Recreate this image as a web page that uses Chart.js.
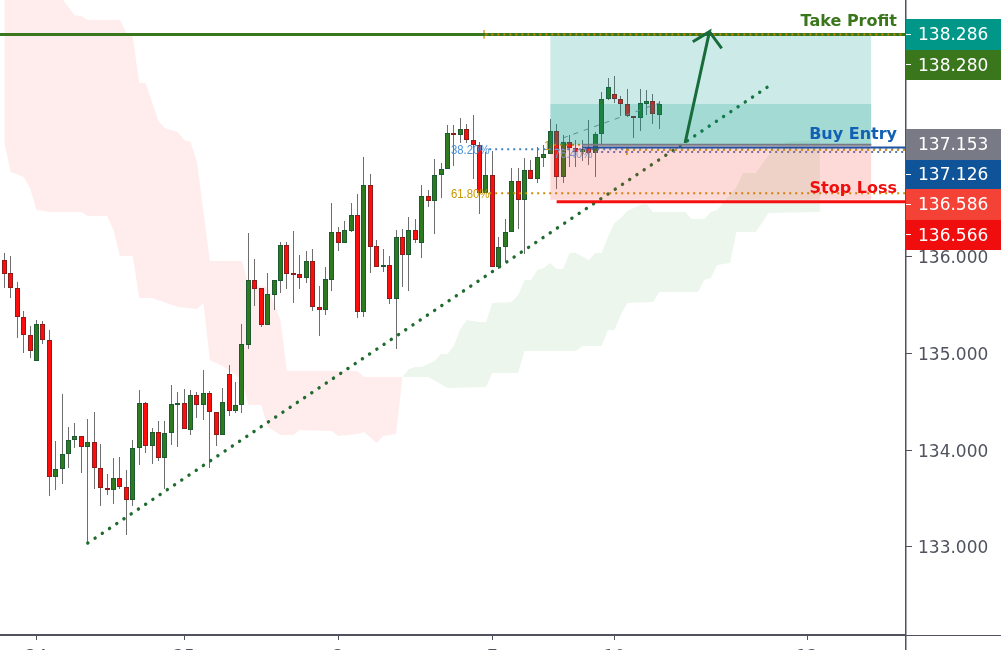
<!DOCTYPE html>
<html>
<head>
<meta charset="utf-8">
<style>
  html, body { margin: 0; padding: 0; background: #fff; overflow: hidden; }
  canvas { display: block; }
</style>
<script src="https://cdn.jsdelivr.net/npm/chart.js@4"></script>
</head>
<body>
<canvas id="priceChart" width="1001" height="650"></canvas>
<script>
// Candles, one entry per bar
const candleOpen = [
  135.960, 135.826, 135.671, 135.371, 135.185, 134.917, 135.299, 135.134, 133.719, 133.802,
  133.957, 134.101, 134.142, 134.029, 134.081, 133.812, 133.605, 133.585, 133.709, 133.616,
  133.488, 134.019, 134.483, 134.046, 134.184, 133.915, 134.173, 134.469, 134.483, 134.211,
  134.566, 134.463, 134.587, 134.390, 134.153, 134.783, 134.401, 134.463, 135.089, 135.754,
  135.671, 135.296, 135.606, 135.750, 136.115, 135.829, 135.816, 135.781, 135.950, 135.475,
  135.451, 135.761, 136.249, 136.143, 136.267, 136.425, 135.430, 136.735, 136.105, 135.895,
  135.909, 135.564, 136.198, 136.019, 136.270, 136.143, 136.621, 136.576, 136.838, 136.900,
  137.272, 137.251, 137.313, 137.200, 137.148, 136.652, 136.838, 135.895, 136.102, 136.256,
  136.776, 136.587, 136.890, 136.804, 137.021, 137.055, 137.293, 136.824, 137.179, 137.117,
  137.076, 137.117, 137.065, 137.262, 137.623, 137.675, 137.623, 137.571, 137.451, 137.434,
  137.578, 137.602, 137.465
];
const candleHigh = [
  136.032, 136.005, 135.733, 135.437, 135.282, 135.344, 135.334, 135.241, 134.094, 134.580,
  134.239, 134.280, 134.142, 134.321, 134.394, 134.063, 133.753, 133.919, 133.929, 133.795,
  134.105, 134.621, 134.497, 134.229, 134.301, 134.301, 134.673, 134.600, 134.631, 134.621,
  134.597, 134.828, 134.607, 134.390, 134.642, 134.879, 134.704, 135.303, 136.243, 135.974,
  135.671, 135.829, 135.754, 136.150, 136.150, 136.263, 136.015, 136.057, 136.077, 135.695,
  135.891, 136.552, 136.304, 136.366, 136.552, 136.645, 137.027, 136.852, 136.170, 136.077,
  136.005, 136.270, 136.284, 136.408, 136.387, 136.738, 136.687, 137.007, 136.965, 137.358,
  137.358, 137.430, 137.368, 137.461, 137.186, 137.083, 137.086, 136.205, 136.387, 136.911,
  136.917, 137.014, 136.997, 137.127, 137.151, 137.420, 137.365, 137.255, 137.255, 137.203,
  137.203, 137.410, 137.282, 137.695, 137.840, 137.864, 137.657, 137.730, 137.451, 137.730,
  137.719, 137.678, 137.606
];
const candleLow = [
  135.678, 135.574, 135.161, 135.006, 134.955, 134.917, 135.099, 133.530, 133.592, 133.654,
  133.819, 134.025, 133.767, 133.041, 133.602, 133.426, 133.537, 133.447, 133.602, 133.127,
  133.426, 133.850, 133.974, 133.860, 133.891, 133.602, 134.056, 134.036, 134.215, 134.160,
  134.335, 134.311, 133.819, 134.046, 134.153, 134.356, 134.387, 134.387, 135.048, 135.492,
  135.275, 135.296, 135.451, 135.626, 135.664, 135.523, 135.664, 135.730, 135.440, 135.182,
  135.399, 135.647, 136.057, 136.143, 136.253, 135.365, 135.378, 135.829, 135.895, 135.840,
  135.509, 135.048, 135.685, 135.647, 136.143, 135.988, 136.514, 136.236, 136.607, 136.900,
  136.934, 137.175, 137.172, 136.804, 136.439, 136.652, 135.895, 135.874, 135.940, 136.256,
  136.281, 136.022, 136.804, 136.756, 136.921, 137.055, 136.694, 136.762, 136.928, 136.928,
  136.990, 136.945, 136.818, 137.162, 137.616, 137.582, 137.454, 137.437, 137.220, 137.299,
  137.461, 137.368, 137.317
];
const candleClose = [
  135.822, 135.671, 135.371, 135.185, 135.020, 135.299, 135.134, 133.719, 133.802, 133.957,
  134.101, 134.142, 134.029, 134.081, 133.812, 133.605, 133.585, 133.709, 133.616, 133.488,
  134.019, 134.483, 134.046, 134.184, 133.915, 134.173, 134.473, 134.483, 134.215, 134.566,
  134.463, 134.587, 134.390, 134.153, 134.494, 134.401, 134.463, 135.093, 135.754, 135.668,
  135.296, 135.609, 135.754, 136.115, 135.823, 135.812, 135.781, 135.950, 135.475, 135.451,
  135.764, 136.249, 136.143, 136.270, 136.425, 135.430, 136.735, 136.101, 135.895, 135.909,
  135.564, 136.198, 136.019, 136.270, 136.174, 136.621, 136.576, 136.838, 136.900, 137.272,
  137.251, 137.313, 137.199, 137.148, 136.652, 136.838, 135.895, 136.102, 136.256, 136.776,
  136.587, 136.890, 136.804, 137.024, 137.059, 137.293, 136.824, 137.179, 137.117, 137.083,
  137.107, 137.065, 137.265, 137.623, 137.747, 137.623, 137.571, 137.451, 137.434, 137.582,
  137.602, 137.468, 137.571
];

// Red kumo, upper and lower edge
const redCloudTopX = [0, 9.14, 11, 12, 13, 18, 19, 20, 21, 22, 24, 25, 27, 28, 29, 30, 32, 37, 38, 41, 43, 44, 55, 56, 62];
const redCloudTop = [138.649, 138.649, 138.490, 138.484, 138.442, 138.442, 138.308, 138.267, 137.792, 137.792, 137.399, 137.327, 137.286, 137.203, 137.182, 136.976, 135.954, 135.954, 135.706, 135.685, 135.344, 134.818, 134.818, 134.756, 134.756];
const redCloudBottomX = [0, 1, 3, 4, 5, 7, 12, 13, 16, 17, 18, 20, 21, 23, 27, 30, 31, 32, 34, 37, 38, 40, 41, 43, 45, 46, 51, 52, 55, 56, 58, 59, 61, 62];
const redCloudBottom = [137.172, 136.873, 136.821, 136.707, 136.480, 136.460, 136.460, 136.418, 136.418, 136.274, 136.005, 136.005, 135.571, 135.571, 135.478, 135.458, 135.520, 134.931, 134.869, 134.725, 134.466, 134.466, 134.239, 134.157, 134.157, 134.208, 134.198, 134.146, 134.167, 134.188, 134.074, 134.146, 134.167, 134.756];

// Green kumo
const greenCloudTopX = [62, 63, 64, 65, 67, 68, 69, 70, 71, 72, 74, 75, 76, 79, 80, 81, 82, 83, 84, 85, 86, 87, 88, 89, 91, 92, 93, 94, 95, 96, 97, 99, 100, 101, 106, 107, 109, 110, 111, 114, 115, 117, 119, 120, 122, 127];
const greenCloudTop = [134.756, 134.838, 134.859, 134.859, 134.921, 134.993, 134.993, 135.076, 135.251, 135.344, 135.324, 135.324, 135.520, 135.530, 135.602, 135.757, 135.757, 135.861, 135.881, 135.933, 135.871, 135.871, 136.036, 136.036, 135.964, 136.036, 136.036, 136.201, 136.346, 136.398, 136.470, 136.532, 136.542, 136.460, 136.460, 136.387, 136.387, 136.460, 136.480, 136.718, 136.862, 136.862, 137.048, 137.120, 137.182, 137.203];
const greenCloudBottomX = [62, 66, 69, 75, 76, 80, 81, 89, 90, 93, 94, 95, 96, 97, 101, 102, 108, 109, 110, 111, 113, 114, 117, 119, 127];
const greenCloudBottom = [134.756, 134.756, 134.642, 134.652, 134.797, 134.797, 135.024, 135.024, 135.076, 135.076, 135.241, 135.241, 135.396, 135.520, 135.530, 135.633, 135.633, 135.757, 135.778, 135.912, 135.933, 136.253, 136.253, 136.449, 136.460];

// Trade levels
const takeProfit = 138.286;
const takeProfitLine = 138.293;
const buyEntryGray = 137.153;
const buyEntry = 137.126;
const stopLossTop = 136.586;
const stopLoss = 136.566;
const cloudMid = 137.575;
const fib382 = 137.108;
const fib618 = 136.653;
const fib764 = 137.078;

// Drawings in bar index / price
const zoneX = [85, 135];
const trendX = [13, 119.3];
const trendY = [133.041, 137.771];
const arrowX = [106, 109.8, 107.2, 109.8, 111.7];
const arrowY = [137.172, 138.322, 138.218, 138.322, 138.150];
const fibGuideX = [87, 102];
const fibGuideY = [137.224, 137.585];

// Axis ticks
const dateTicks = [5, 28, 52, 76, 95, 125];
const dateLabels = ["24", "25", "3", "7", "10", "12"];
const priceTicks = [133, 134, 135, 136, 137, 138];

const X_MIN = -0.674;
const X_MAX = 140.4;
const TEXT_GRAY = "#50535e";

function toPoints(xs, ys) {
    return xs.map((x, i) => ({ x: x, y: ys[i] }));
}

function lineSet(xs, ys, order, color, width, extra) {
    return Object.assign({
        type: "line",
        data: toPoints(xs, ys),
        order: order,
        borderColor: color,
        borderWidth: width,
        pointRadius: 0,
        tension: 0,
        fill: false,
    }, extra || {});
}

function levelSet(from, to, price, order, color, width, extra) {
    return lineSet([from, to], [price, price], order, color, width, extra);
}

function zoneSet(price, target, color) {
    return lineSet(zoneX, [price, price], 20, "transparent", 0, {
        backgroundColor: color,
        fill: { value: target },
    });
}

const candleIndex = candleOpen.map((v, i) => i);
const isUp = candleIndex.map((i) => candleClose[i] >= candleOpen[i]);

const GOLD = "#c98d00";
const DOT = [2, 4];

const datasets = [
    // Kumo
    lineSet(redCloudTopX, redCloudTop, 100, "transparent", 0, { backgroundColor: "rgba(255,0,0,0.075)", fill: "+1" }),
    lineSet(redCloudBottomX, redCloudBottom, 100, "transparent", 0),
    lineSet(greenCloudTopX, greenCloudTop, 100, "transparent", 0, { backgroundColor: "rgba(0,128,0,0.075)", fill: "+1" }),
    lineSet(greenCloudBottomX, greenCloudBottom, 100, "transparent", 0),

    // Candles
    {
        type: "bar",
        label: "wicks",
        order: 90,
        data: candleIndex.map((i) => ({ x: i, y: [candleLow[i], candleHigh[i]] })),
        backgroundColor: "#6e6e6e",
        borderWidth: 0,
        barThickness: 1,
        grouped: false,
        inflateAmount: 0,
    },
    {
        type: "bar",
        label: "bodies",
        order: 80,
        data: candleIndex.map((i) => ({ x: i, y: [candleOpen[i], candleClose[i]] })),
        backgroundColor: isUp.map((u) => (u ? "#2e7a1f" : "#ff0d0d")),
        borderColor: isUp.map((u) => (u ? "#1d5a32" : "#8a1c1c")),
        borderWidth: 1,
        borderSkipped: false,
        barThickness: 5,
        grouped: false,
        inflateAmount: 0,
    },

    // Trend line and fib levels, under the trade zones
    lineSet(trendX, trendY, 60, "#1f6b2e", 3.4, { borderDash: [0.1, 8.6], borderCapStyle: "round" }),
    lineSet(fibGuideX, fibGuideY, 55, "#8b8b8b", 1, { borderDash: [5, 6] }),
    levelSet(75.5, X_MAX, fib382, 50, "#3d85c6", 2, { borderDash: DOT }),
    levelSet(92, X_MAX, fib764, 50, "#5a78c0", 2, { borderDash: DOT }),
    levelSet(75.5, X_MAX, fib618, 50, GOLD, 2, { borderDash: DOT }),
    levelSet(85.6, 90, 137.153, 50, GOLD, 2, { borderDash: DOT }),
    lineSet([96.94, 96.94], [137.120, 137.048], 50, GOLD, 1.5),
    lineSet([74.7, 74.7], [138.340, 138.250], 50, GOLD, 1.2),

    // Trade zones
    zoneSet(takeProfit, buyEntryGray, "rgba(0,150,136,0.2)"),
    zoneSet(cloudMid, buyEntryGray, "rgba(0,150,136,0.2)"),
    zoneSet(buyEntryGray, stopLossTop, "rgba(244,67,54,0.2)"),

    // Level lines
    levelSet(X_MIN, X_MAX, takeProfitLine, 10, "#3a761c", 3),
    levelSet(74.9, X_MAX, takeProfitLine, 9, GOLD, 2, { borderDash: DOT }),
    levelSet(90, 135, buyEntryGray, 10, "#767a86", 2),
    levelSet(90, X_MAX, buyEntry, 9, "#20529f", 2),
    levelSet(96.94, X_MAX, 137.100, 8, "#d4921c", 2, { borderDash: DOT }),
    levelSet(86, X_MAX, stopLoss, 10, "#f50f0f", 3),
    lineSet(arrowX, arrowY, 5, "#186b3a", 3),
];

// Candles sit on whole pixels, so the wicks stay one pixel wide
const snapPlugin = {
    id: "snapPlugin",
    beforeDatasetDraw(chart, args) {
        const label = chart.data.datasets[args.index].label;
        if (label !== "wicks" && label !== "bodies") return;
        args.meta.data.forEach((bar) => {
            bar.x = Math.round(bar.x - 0.5) + 0.5;
            bar.y = Math.round(bar.y);
            bar.base = Math.round(bar.base);
        });
    },
};

// Fib percentages are set in a narrow face, squeeze the sans to fit
function fibText(ctx, text, x, y, color) {
    ctx.save();
    ctx.translate(x, y);
    ctx.scale(0.84, 1);
    ctx.fillStyle = color;
    ctx.fillText(text, 0, 0);
    ctx.restore();
}

// Labels on the drawings and the price boxes on the axis
const labelPlugin = {
    id: "labelPlugin",
    afterDraw(chart) {
        const ctx = chart.ctx;
        const xs = chart.scales.x;
        const ys = chart.scales.y;
        ctx.save();

        // Full length axis lines
        ctx.fillStyle = TEXT_GRAY;
        ctx.fillRect(905, 0, 1.5, 650);
        ctx.fillRect(0, 634, 906, 2);
        ctx.fillRect(906, 635, 95, 1);

        ctx.textBaseline = "middle";
        ctx.textAlign = "left";
        ctx.font = "13.5px 'Liberation Sans'";
        fibText(ctx, "38.20%", 451, ys.getPixelForValue(fib382) + 1, "#4a90d9");
        fibText(ctx, "61.80%", 451, ys.getPixelForValue(fib618) + 1, "#c99700");
        fibText(ctx, "76.40%", 554, ys.getPixelForValue(fib764) + 2, "#7d97c4");
        fibText(ctx, "1", xs.getPixelForValue(84.5) - 3, ys.getPixelForValue(137.153) + 1, "#c99700");

        ctx.textAlign = "right";
        ctx.font = "bold 16px 'DejaVu Sans'";
        ctx.fillStyle = "#3a761c";
        ctx.fillText("Take Profit", 897, 21.5);
        ctx.fillStyle = "#1260b4";
        ctx.fillText("Buy Entry", 897, 135);
        ctx.fillStyle = "#f00d0d";
        ctx.fillText("Stop Loss", 897, 189);

        const boxes = [
            [takeProfit, "#009688", 19, 31, 34],
            [138.280, "#3a761c", 50, 30, 64],
            [buyEntryGray, "#787b86", 129, 31, null],
            [buyEntry, "#0f5499", 160, 29, 174],
            [stopLossTop, "#f44336", 189, 31, 204],
            [stopLoss, "#f00d0d", 220, 30, 234],
        ];
        ctx.font = "17px 'DejaVu Sans'";
        ctx.textAlign = "left";
        boxes.forEach(([price, color, top, height, tick]) => {
            ctx.fillStyle = color;
            ctx.fillRect(906, top, 95, height);
            ctx.fillStyle = "#ffffff";
            if (tick !== null) ctx.fillRect(906, tick, 5, 1);
            ctx.fillText(price.toFixed(3), 918, top + height / 2 + 1.5);
        });
        ctx.restore();
    },
};

const ctx = document.getElementById("priceChart").getContext("2d");
new Chart(ctx, {
    type: "bar",
    data: { datasets: datasets },
    plugins: [snapPlugin, labelPlugin],
    options: {
        responsive: false,
        animation: false,
        devicePixelRatio: 1,
        layout: { padding: 0 },
        plugins: {
            legend: { display: false },
            title: { display: false },
            tooltip: { enabled: false },
        },
        scales: {
            x: {
                type: "linear",
                position: "bottom",
                bounds: "data",
                min: X_MIN,
                max: X_MAX,
                offset: false,
                grid: { display: true, offset: false, drawOnChartArea: false, drawTicks: true, tickLength: 5, tickColor: TEXT_GRAY },
                border: { display: false },
                afterBuildTicks(scale) {
                    scale.ticks = dateTicks.map((v) => ({ value: v }));
                },
                afterFit(scale) {
                    scale.height = 15;
                    scale.paddingLeft = 0;
                    scale.paddingRight = 0;
                },
                ticks: {
                    autoSkip: false,
                    maxRotation: 0,
                    padding: 7,
                    color: TEXT_GRAY,
                    font: { family: "'DejaVu Sans'", size: 17 },
                    callback: (value, index) => dateLabels[index],
                },
            },
            y: {
                type: "linear",
                position: "right",
                bounds: "data",
                min: 132.091,
                max: 138.649,
                grid: { display: true, drawOnChartArea: false, drawTicks: true, tickLength: 6, tickColor: TEXT_GRAY },
                border: { display: false },
                afterBuildTicks(scale) {
                    scale.ticks = priceTicks.map((v) => ({ value: v }));
                },
                afterFit(scale) {
                    scale.width = 95;
                    scale.paddingTop = 0;
                    scale.paddingBottom = 0;
                },
                ticks: {
                    autoSkip: false,
                    padding: 6,
                    labelOffset: 2,
                    color: TEXT_GRAY,
                    font: { family: "'DejaVu Sans'", size: 17 },
                    callback: (value) => value.toFixed(3),
                },
            },
        },
    },
});
</script>
</body>
</html>
